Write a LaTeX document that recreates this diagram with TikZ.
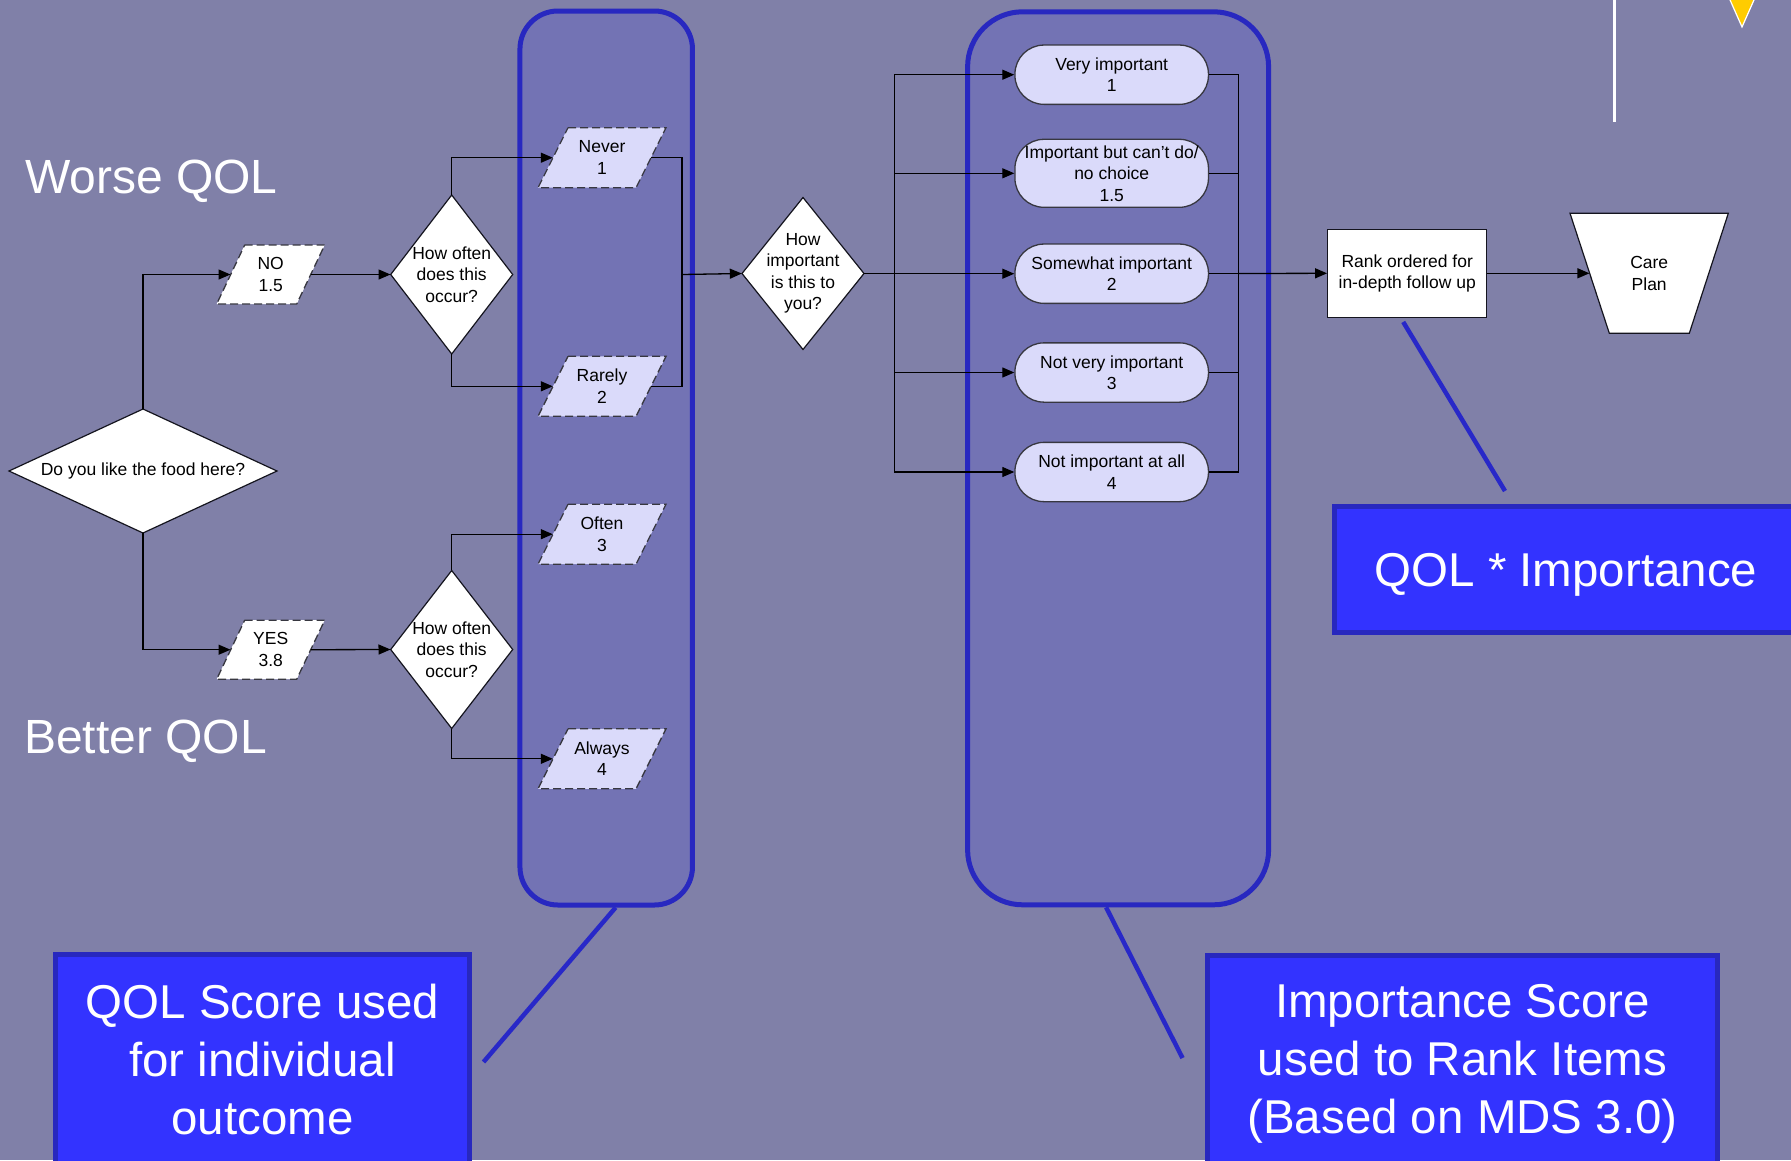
\documentclass[tikz,border=0pt]{standalone}
\usepackage{fontspec}
\setmainfont{Liberation Sans}
\usetikzlibrary{arrows.meta,calc}
\definecolor{bgc}{RGB}{128,128,168}
\definecolor{lanefill}{RGB}{115,115,180}
\definecolor{laneborder}{RGB}{40,40,192}
\definecolor{lav}{RGB}{218,218,250}
\definecolor{boxblue}{RGB}{51,51,255}
\definecolor{boxborder}{RGB}{40,40,190}
\definecolor{calloutc}{RGB}{40,40,200}
\definecolor{yel}{RGB}{255,204,0}
\definecolor{ink}{RGB}{20,20,30}
\tikzset{
  txt/.style={inner sep=0pt, align=center, font=\fontsize{17.5}{21.5}\selectfont, text=black},
  parash/.style={draw=ink!85, line width=1.3pt, dash pattern=on 8pt off 4pt},
  diamsh/.style={draw=ink, line width=1.2pt, fill=white},
  term/.style={txt, draw=ink!85, line width=1.3pt, fill=lav, rounded corners=29pt, minimum width=193.5pt},
  rankbox/.style={txt, draw=ink, line width=1.3pt, fill=white},
  lane/.style={draw=laneborder, line width=5pt, fill=lanefill},
  bluebox/.style={draw=boxborder, line width=5pt, fill=boxblue, text=white, align=center,
                  font=\fontsize{47.5}{58}\selectfont, inner sep=0pt},
  bigtxt/.style={text=white, inner sep=0pt, font=\fontsize{48}{56}\selectfont, anchor=base west},
  conn/.style={draw=black, line width=1.3pt},
  arr/.style={conn, -{Triangle[length=12pt,width=10pt]}},
  callout/.style={draw=calloutc, line width=4.5pt}
}
\newcommand\Para[8]{%
  \draw[parash, fill=#7] ({#2-#4/2+#6/2},{#3-#5/2}) -- ({#2+#4/2+#6/2},{#3-#5/2}) -- ({#2+#4/2-#6/2},{#3+#5/2}) -- ({#2-#4/2-#6/2},{#3+#5/2}) -- cycle;
  \node[txt, minimum width=#4pt, minimum height=#5pt] (#1) at (#2,#3) {#8};}
\newcommand\Diam[6]{%
  \draw[diamsh] ({#2-#4/2},#3) -- (#2,{#3-#5/2}) -- ({#2+#4/2},#3) -- (#2,{#3+#5/2}) -- cycle;
  \node[txt, minimum width=#4pt, minimum height=#5pt] (#1) at (#2,#3) {#6};}
\begin{document}
\begin{tikzpicture}[x=1pt,y=-1pt]
\useasboundingbox (0,0) rectangle (1791,1160);
\begin{scope}
\clip (0,0) rectangle (1791,1160);
\fill[bgc] (0,0) rectangle (1791,1160);

% lanes
\node[lane, rounded corners=38pt, minimum width=172.5pt, minimum height=894pt] (laneL) at (606.2,458) {};
\node[lane, rounded corners=55pt, minimum width=301pt, minimum height=893pt] (laneR) at (1118.1,458.3) {};

% side labels
\node[bigtxt] (worse) at (25,193) {Worse QOL};
\node[bigtxt] (better) at (24,753) {Better QOL};

% decorations top right
\draw[white, line width=2.5pt] (1614.3,-2) -- (1614.3,121.7);
\draw[white, line width=1.2pt, fill=yel] (1725.6,-10) -- (1758.4,-10) -- (1742,27) -- cycle;

% flowchart shapes
\Diam{do}{143}{471}{268}{124}{Do you like the food here?}
\Para{no}{270.7}{274.5}{80}{59}{28}{white}{NO\\1.5}
\Para{yes}{270.7}{649.7}{80}{59}{28}{white}{YES\\3.8}
\Diam{hofa}{451.7}{274.5}{122}{159}{How often\\does this\\occur?}
\Diam{hofb}{451.7}{649.5}{122}{158}{How often\\does this\\occur?}
\Para{never}{602}{157.7}{98}{60}{30}{lav}{Never\\1}
\Para{rarely}{602}{386.3}{98}{60}{30}{lav}{Rarely\\2}
\Para{often}{602}{534.2}{98}{60}{30}{lav}{Often\\3}
\Para{always}{602}{758.8}{98}{60}{30}{lav}{Always\\4}
\Diam{himp}{803}{273.5}{122}{152}{How\\important\\is this to\\you?}

\node[term, minimum height=59.3pt] (ta) at (1111.7,74.7) {Very important\\1};
\node[term, minimum height=68pt] (tb) at (1111.7,173.3) {Important but can’t do/\\no choice\\1.5};
\node[term, minimum height=59.3pt] (tc) at (1111.7,273.7) {Somewhat important\\2};
\node[term, minimum height=59.3pt] (td) at (1111.7,372.5) {Not very important\\3};
\node[term, minimum height=59.3pt] (te) at (1111.7,472) {Not important at all\\4};

\node[rankbox, minimum width=159pt, minimum height=88pt] (rank) at (1407.2,273.3) {Rank ordered for\\in-depth follow up};

\draw[diamsh] (1570,213.3) -- (1728.3,213.3) -- (1689.3,333.3) -- (1609.3,333.3) -- cycle;
\node[txt, minimum width=119.2pt, minimum height=120pt] (care) at (1649.2,273.3) {Care\\Plan};

% connectors
\draw[arr] (do.north) |- (no.west);
\draw[arr] (do.south) |- (yes.west);
\draw[arr] (no.east) -- (hofa.west);
\draw[arr] (yes.east) -- (hofb.west);
\draw[arr] (hofa.north) |- (never.west);
\draw[arr] (hofa.south) |- (rarely.west);
\draw[arr] (hofb.north) |- (often.west);
\draw[arr] (hofb.south) |- (always.west);

\coordinate (ja) at (682,274.5);
\draw[conn] (never.east) -| (ja) |- (rarely.east);
\draw[arr] (ja) -- (himp.west);

\coordinate (jb) at (894.3,273.5);
\draw[conn] (himp.east) -- (jb);
\foreach \t in {ta,tb,tc,td,te} { \draw[arr] (jb) |- (\t.west); }

\coordinate (jc) at (1238.5,273.5);
\foreach \t in {ta,tb,tc,td,te} { \draw[conn] (\t.east) -| (jc); }
\draw[arr] (jc) -- (rank.west);
\draw[arr] (rank.east) -- (care.west);

% explanation boxes
\node[bluebox, minimum width=414pt, minimum height=211pt] (boxa) at (262.5,1060) {QOL Score used\\for individual\\outcome};
\node[bluebox, text depth=0pt, minimum width=510pt, minimum height=208pt] (boxb) at (1462.5,1059.3) {Importance Score\\used to Rank Items\\(Based on MDS 3.0)};
\node[bluebox, text depth=0pt, minimum width=462.4pt, minimum height=125.7pt] (boxc) at (1566,569.7) {QOL * Importance};

% callouts
\coordinate (ca) at (483.5,1062);
\coordinate (cb) at (1182.5,1058);
\coordinate (cc) at (1505,491);
\draw[callout] ($(laneL.south)+(9.4,0)$) -- (ca);
\draw[callout] ($(laneR.south)+(-12,0)$) -- (cb);
\draw[callout] ($(rank.south)+(-4,4)$) -- (cc);
\end{scope}
\end{tikzpicture}
\end{document}
